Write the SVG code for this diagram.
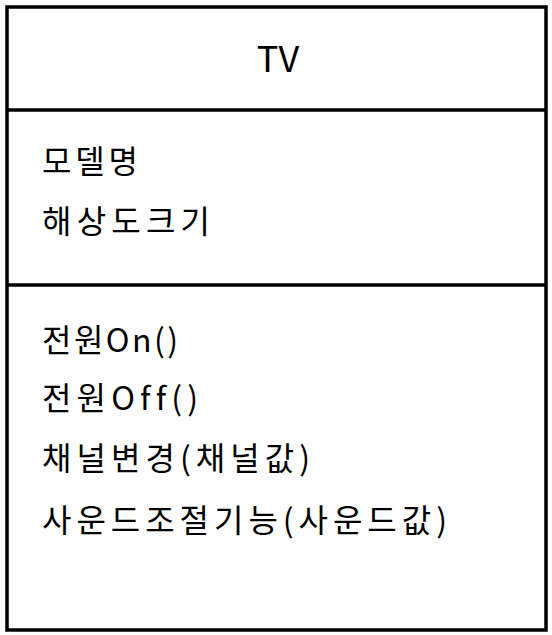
<svg xmlns="http://www.w3.org/2000/svg" width="552" height="635" viewBox="0 0 552 635">
<style>
.box{fill:#fff;stroke:#000;stroke-width:3.5}
.div{stroke:#000;stroke-width:3.5}
.t{font-family:"Noto Sans CJK KR","Noto Sans",sans-serif;font-size:32px;fill:#000;font-variant-ligatures:none}
.title{font-family:"Noto Sans CJK KR","Noto Sans",sans-serif;font-size:36px;fill:#000;text-anchor:middle}
</style>
<rect width="552" height="635" fill="#fff"/>
<g id="class-TV">
<rect class="box" x="7" y="7" width="539" height="623"/>
<line class="div" x1="7" y1="110" x2="546" y2="110"/>
<line class="div" x1="7" y1="285" x2="546" y2="285"/>
<text class="title" x="278" y="72">TV</text>
<text class="t" x="42" y="173" textLength="96" lengthAdjust="spacing">모델명</text>
<text class="t" x="42" y="233" textLength="168" lengthAdjust="spacing">해상도크기</text>
<text class="t" x="42" y="352" textLength="136" lengthAdjust="spacing">전원On()</text>
<text class="t" x="42" y="410" textLength="156" lengthAdjust="spacing">전원Off()</text>
<text class="t" x="42" y="470" textLength="268" lengthAdjust="spacing">채널변경(채널값)</text>
<text class="t" x="42" y="532" textLength="405" lengthAdjust="spacing">사운드조절기능(사운드값)</text>
</g>
<g id="connectors"/>
</svg>
